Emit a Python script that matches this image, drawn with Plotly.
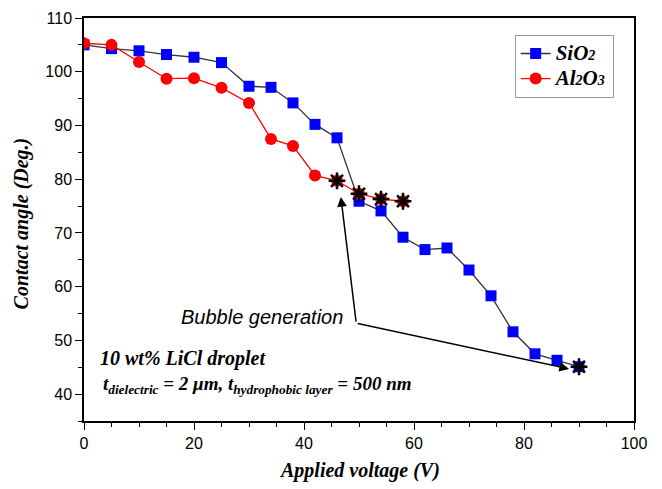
import plotly.graph_objects as go

voltage_sio2 = [0, 5, 10, 15, 20, 25, 30, 34, 38, 42, 46, 50, 54, 58, 62, 66, 70, 74, 78, 82, 86, 90]
angle_sio2 = [105.0, 104.3, 103.9, 103.2, 102.7, 101.7, 97.3, 97.1, 94.2, 90.2, 87.7, 75.9, 74.1, 69.2,
              66.9, 67.2, 63.1, 58.3, 51.6, 47.5, 46.3, 45.1]
voltage_al2o3 = [0, 5, 10, 15, 20, 25, 30, 34, 38, 42, 46, 50, 54, 58]
angle_al2o3 = [105.3, 105.0, 101.8, 98.7, 98.8, 97.0, 94.2, 87.5, 86.2, 80.7, 79.7, 77.3, 76.3, 75.9]
bubble_x = [46, 50, 54, 58, 90]
bubble_y = [79.7, 77.3, 76.3, 75.9, 45.1]

serif = "Liberation Serif"
sans = "Liberation Sans"
big = "<span style='font-size:21px'>{}</span>"
small = "<span style='font-size:14px'>{}</span>"

fig = go.Figure()
fig.add_trace(go.Scatter(
    x=voltage_sio2, y=angle_sio2, mode="lines+markers",
    name="<b><i>" + big.format("SiO") + small.format("2") + "</i></b>",
    line=dict(color="#333333", width=1.3),
    marker=dict(symbol="square", size=11, color="#0000ff", line=dict(width=0))))
fig.add_trace(go.Scatter(
    x=voltage_al2o3, y=angle_al2o3, mode="lines+markers",
    name="<b><i>" + big.format("Al") + small.format("2") + big.format("O") + small.format("3") + "</i></b>",
    line=dict(color="#ff0000", width=1.3),
    marker=dict(symbol="circle", size=12, color="#ff0000", line=dict(width=0))))
fig.add_trace(go.Scatter(
    x=bubble_x, y=bubble_y, mode="markers", showlegend=False,
    marker=dict(symbol="asterisk", size=14, color="black", line=dict(width=2.5, color="black"))))

elbow = (49.5, 53.2)
fig.add_annotation(x=46.7, y=76.7, ax=elbow[0], ay=elbow[1], axref="x", ayref="y", xref="x", yref="y",
                   showarrow=True, arrowhead=2, arrowsize=1.3, arrowwidth=1.5, arrowcolor="black", text="")
fig.add_annotation(x=88.2, y=44.7, ax=elbow[0], ay=elbow[1], axref="x", ayref="y", xref="x", yref="y",
                   showarrow=True, arrowhead=2, arrowsize=1.3, arrowwidth=1.5, arrowcolor="black", text="")
fig.add_annotation(x=17.2, y=54.4, xref="x", yref="y", xanchor="left", yanchor="middle", showarrow=False,
                   text="<i>Bubble generation</i>", font=dict(family=sans, size=20, color="black"))
fig.add_annotation(x=2.5, y=46.6, xref="x", yref="y", xanchor="left", yanchor="middle", showarrow=False,
                   text="<b><i>10 wt% LiCl droplet</i></b>", font=dict(family=serif, size=20, color="black"))
fig.add_annotation(x=3.0, y=41.7, xref="x", yref="y", xanchor="left", yanchor="middle", showarrow=False,
                   text="<b><i>t<sub>dielectric</sub> = 2 \u03bcm, t<sub>hydrophobic layer</sub> = 500 nm</i></b>",
                   font=dict(family=serif, size=19, color="black"))

# axis titles
fig.add_annotation(x=0.5, y=-0.122, xref="paper", yref="paper", xanchor="center", yanchor="middle",
                   showarrow=False, text="<b><i>Applied voltage (V)</i></b>",
                   font=dict(family=serif, size=20, color="black"))
fig.add_annotation(x=-0.113, y=0.49, xref="paper", yref="paper", xanchor="center", yanchor="middle",
                   showarrow=False, textangle=-90, text="<b><i>Contact angle (Deg.)</i></b>",
                   font=dict(family=serif, size=20, color="black"))

axis_common = dict(showline=True, linecolor="black", linewidth=1.5, mirror=True, ticks="outside",
                   ticklen=7, tickwidth=1.3, tickcolor="black", showgrid=False, zeroline=False,
                   automargin=False, tickfont=dict(family=sans, size=16, color="black"))
fig.update_xaxes(range=[0, 100], dtick=20, tick0=0,
                 minor=dict(dtick=5, ticks="outside", ticklen=4, tickcolor="black", tickwidth=1.3),
                 **axis_common)
fig.update_yaxes(range=[35, 110], dtick=10, tick0=0,
                 minor=dict(dtick=5, ticks="outside", ticklen=4, tickcolor="black", tickwidth=1.3),
                 **axis_common)

fig.update_layout(
    width=654, height=481, plot_bgcolor="white", paper_bgcolor="white",
    margin=dict(l=76, r=28, t=10, b=68),
    legend=dict(x=0.783, y=0.958, xanchor="left", yanchor="top", bordercolor="#999999", borderwidth=1,
                bgcolor="white", font=dict(family=serif, size=17, color="black"),
                itemwidth=30, tracegroupgap=0),
    showlegend=True,
)
fig.write_html("out.html")
